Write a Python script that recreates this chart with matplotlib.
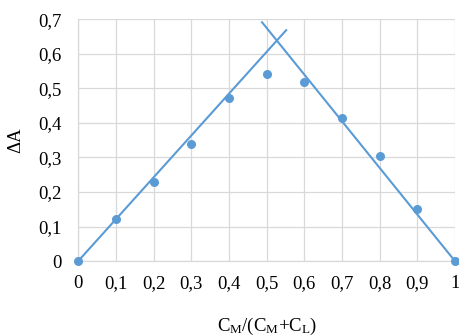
import matplotlib
matplotlib.use("Agg")
import matplotlib.pyplot as plt

plt.rcParams['font.family'] = ['Liberation Serif', 'DejaVu Serif']
plt.rcParams['mathtext.fontset'] = 'custom'
plt.rcParams['mathtext.rm'] = 'Liberation Serif'
plt.rcParams['mathtext.it'] = 'Liberation Serif'

x_vals = [0, 0.1, 0.2, 0.3, 0.4, 0.5, 0.6, 0.7, 0.8, 0.9, 1.0]
dA_vals = [0, 0.122, 0.230, 0.340, 0.473, 0.540, 0.517, 0.415, 0.305, 0.152, 0]
left_line_x = [0, 0.552]
left_line_y = [0, 0.668]
right_line_x = [0.488, 1.0]
right_line_y = [0.691, 0]
x_ticks = [0, 0.1, 0.2, 0.3, 0.4, 0.5, 0.6, 0.7, 0.8, 0.9, 1.0]
x_tick_labels = ['0', '0,1', '0,2', '0,3', '0,4', '0,5', '0,6', '0,7', '0,8', '0,9', '1']
y_ticks = [0, 0.1, 0.2, 0.3, 0.4, 0.5, 0.6, 0.7]
y_tick_labels = ['0', '0,1', '0,2', '0,3', '0,4', '0,5', '0,6', '0,7']

color = '#5b9bd5'

fig = plt.figure(figsize=(4.6, 3.36), dpi=100)
ax = fig.add_axes([0.170, 0.223, 0.819, 0.720])
ax.plot(left_line_x, left_line_y, color=color, lw=1.5, zorder=3)
ax.plot(right_line_x, right_line_y, color=color, lw=1.5, zorder=3)
ax.scatter(x_vals, dA_vals, s=30, color=color, zorder=4, clip_on=False)

ax.set_xlim(0, 1)
ax.set_ylim(0, 0.7)
ax.set_xticks(x_ticks)
ax.set_xticklabels(x_tick_labels)
ax.set_yticks(y_ticks)
ax.set_yticklabels(y_tick_labels)
ax.tick_params(length=0, labelsize=13.5, pad=10)
ax.tick_params(axis='y', pad=12)
ax.grid(True, color='#d9d9d9', lw=0.9)
ax.set_axisbelow(True)
for s in ['top', 'right']:
    ax.spines[s].set_visible(False)
for s in ['left', 'bottom']:
    ax.spines[s].set_color('#d9d9d9')
    ax.spines[s].set_linewidth(0.9)

ax.set_xlabel(r'C$_{\mathrm{M}}$/(C$_{\mathrm{M}}$+C$_{\mathrm{L}}$)', fontsize=13.5, labelpad=17)
ax.set_ylabel('ΔA', fontsize=13.5, labelpad=10)

fig.savefig('out.png', dpi=100)
